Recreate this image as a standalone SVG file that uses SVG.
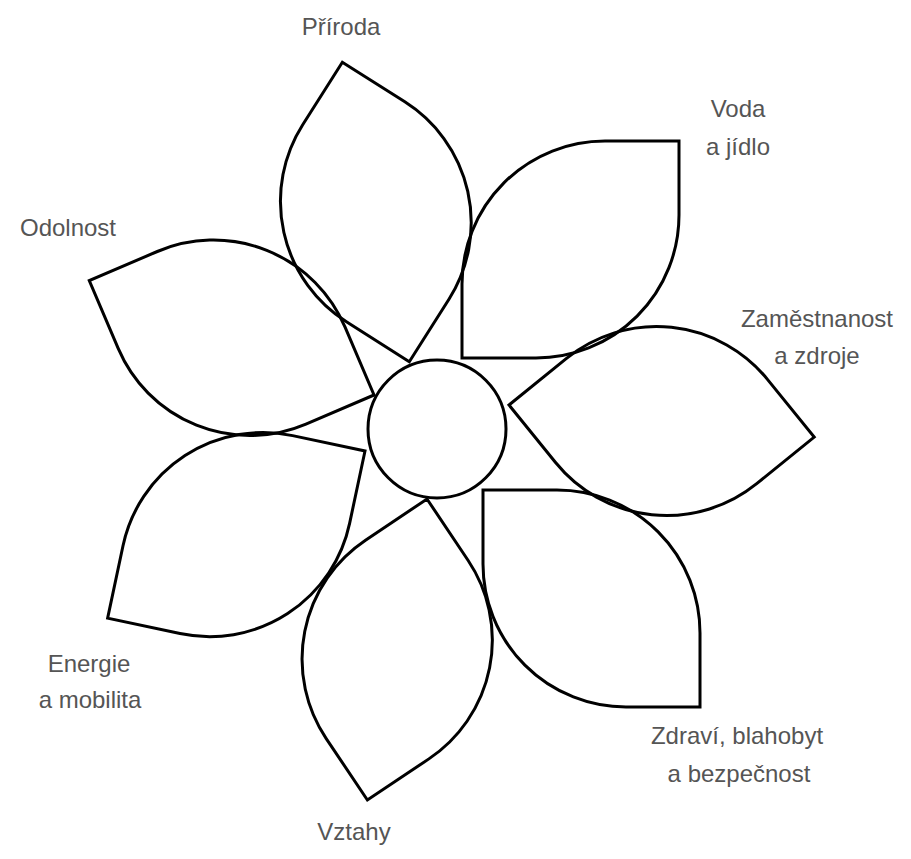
<svg xmlns="http://www.w3.org/2000/svg" xmlns:xlink="http://www.w3.org/1999/xlink" width="911" height="859" viewBox="0 0 911 859">
<style>
.petal{fill:none;stroke:#000;stroke-width:3;stroke-linejoin:miter}
.core{fill:#fff;stroke:#000;stroke-width:3}
.label{font-family:"Liberation Sans",Arial,sans-serif;font-size:24px;fill:#555;text-anchor:middle}
</style>
<defs>
<path id="petal" d="M0,0 L74,0 A143,143 0 0 1 217,143 L217,217 L143,217 A143,143 0 0 1 0,74 Z"/>
</defs>
<rect width="911" height="859" fill="#fff"/>
<g id="node-priroda">
<use xlink:href="#petal" href="#petal" class="petal" transform="translate(409.3,361.7) rotate(212.4)"/>
<text class="label" x="341" y="35">Příroda</text>
</g>
<g id="node-voda">
<use xlink:href="#petal" href="#petal" class="petal" transform="translate(462,358) rotate(-90)"/>
<text class="label" x="738" y="117">Voda</text>
<text class="label" x="738" y="155">a jídlo</text>
</g>
<g id="node-zamestnanost">
<use xlink:href="#petal" href="#petal" class="petal" transform="translate(509,405) rotate(-39)"/>
<text class="label" x="817" y="327">Zaměstnanost</text>
<text class="label" x="817" y="364">a zdroje</text>
</g>
<g id="node-zdravi">
<use xlink:href="#petal" href="#petal" class="petal" transform="translate(483,490) rotate(0)"/>
<text class="label" x="737" y="744">Zdraví, blahobyt</text>
<text class="label" x="739" y="782">a bezpečnost</text>
</g>
<g id="node-vztahy">
<use xlink:href="#petal" href="#petal" class="petal" transform="translate(427,499) rotate(56.2)"/>
<text class="label" x="354" y="840">Vztahy</text>
</g>
<g id="node-energie">
<use xlink:href="#petal" href="#petal" class="petal" transform="translate(365,451) rotate(102)"/>
<text class="label" x="89" y="672">Energie</text>
<text class="label" x="90" y="708">a mobilita</text>
</g>
<g id="node-odolnost">
<use xlink:href="#petal" href="#petal" class="petal" transform="translate(374,395) rotate(156.9)"/>
<text class="label" x="68" y="236">Odolnost</text>
</g>
<g id="node-center">
<circle class="core" cx="437" cy="429" r="69"/>
</g>
<g id="connectors"/>
</svg>
